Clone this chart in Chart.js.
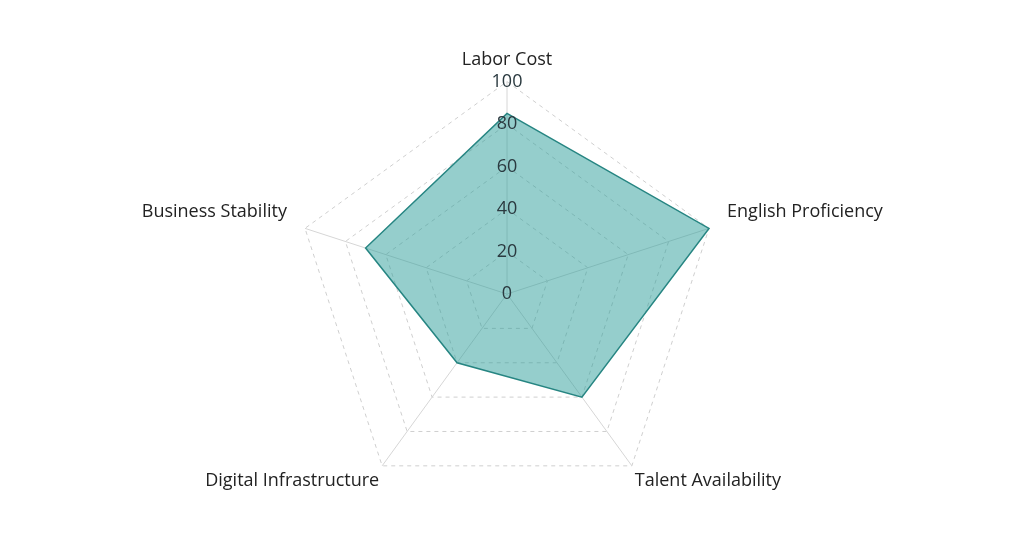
<!DOCTYPE html>
<html>
<head>
<meta charset="utf-8">
<script src="https://cdn.jsdelivr.net/npm/chart.js@4"></script>
<style>
  html, body { margin: 0; padding: 0; background: #fff; }
  #wrap { width: 1024px; height: 535px; }
</style>
</head>
<body>
<div id="wrap"><canvas id="chart_radar"></canvas></div>
<script>
const categories = ['Labor Cost', 'English Proficiency', 'Talent Availability', 'Digital Infrastructure', 'Business Stability'];
const scores = [85, 100, 60, 40, 70];
const tickValues = [0, 20, 40, 60, 80, 100];
// gap between the outer ring and each category label
const labelGaps = [0, 8, -6, -6, 8];

Chart.defaults.font.family = "'Open Sans', 'Noto Sans', sans-serif";

new Chart(document.getElementById('chart_radar'), {
    type: 'radar',
    data: {
        labels: categories,
        datasets: [
            { label: 'Score', data: scores, fill: true, borderColor: 'rgba(38,133,130,1)', backgroundColor: 'rgba(43,157,153,0.5)', borderWidth: 1.5, pointRadius: 0 }
        ]
    },
    options: {
        responsive: true,
        maintainAspectRatio: false,
        animation: false,
        layout: { padding: { top: 39, bottom: 6, left: 0, right: 10 } },
        scales: {
            r: {
                // a hair below zero so Chart.js still prints the "0" tick
                min: -0.01,
                max: 100,
                afterBuildTicks: function (scale) {
                    scale.ticks = tickValues.map(v => ({ value: v }));
                },
                ticks: {
                    showLabelBackdrop: false,
                    color: '#2b3a40',
                    font: { size: 18 },
                    z: 1
                },
                grid: {
                    color: '#cfcfcf'
                },
                border: { dash: [4, 4] },
                angleLines: {
                    color: '#d6d6d6'
                },
                pointLabels: {
                    color: '#222',
                    font: { size: 18 },
                    padding: ctx => labelGaps[ctx.index]
                }
            }
        },
        plugins: {
            legend: { display: false },
            tooltip: { enabled: false }
        }
    }
});
</script>
</body>
</html>
